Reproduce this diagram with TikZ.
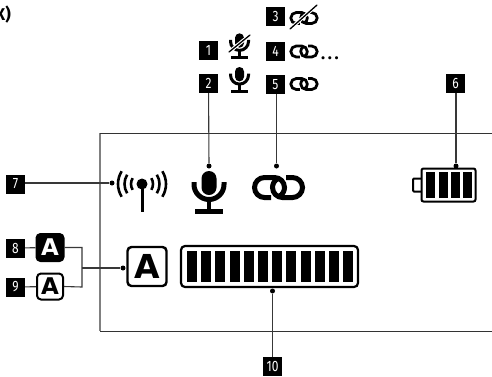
\documentclass[tikz,border=0pt]{standalone}
\usepackage{fontspec}
\setmainfont{Fira Sans}
\newfontfamily\numfont[FakeStretch=0.8]{Fira Sans}
\newfontfamily\letfont{DejaVu Sans}
\usetikzlibrary{calc}
\definecolor{FrameClr}{gray}{0.2}
\definecolor{LeadClr}{gray}{0.22}

\tikzset{
  numbox/.style={fill=black,text=white,minimum size=19pt,inner sep=0pt,font=\numfont\fontsize{15}{15}\selectfont},
  leader/.style={line width=1.1pt,color=LeadClr},
  dotend/.style={fill=black,circle,inner sep=0pt,minimum size=5pt},
  lettbox/.style={draw=black,line width=2pt,rounded corners=4pt,inner sep=0pt},
  slash/.style={line width=1.3pt,line cap=round}
}

\newcommand{\MicIcon}[3]{
  \begin{scope}[shift={(#1,#2)},scale=#3]
    \fill (-7.5,-14.5) arc (180:360:7.5) -- (7.5,-5.5) arc (0:180:7.5) -- cycle;
    \draw[line width=#3*5pt] (-15,-11) -- (-15,-8.5) arc (180:0:15) -- (15,-11);
    \draw[line width=#3*4.5pt] (0,6) -- (0,16);
    \fill (-14,16) rectangle (14,21);
  \end{scope}
}
\newcommand{\ChainIcon}[3]{
  \begin{scope}[shift={(#1,#2)},scale=#3,line width=#3*5pt]
    \draw (-7.5,10) -- (-14,10) arc (90:270:10) -- (-4,-10) arc (-90:60:10);
    \draw (7.5,-10) -- (14,-10) arc (-90:90:10) -- (4,10) arc (90:240:10);
  \end{scope}
}

\begin{document}
\begin{tikzpicture}[x=1pt,y=-1pt]
\useasboundingbox (0,0) rectangle (492,376);

\node[anchor=east,inner sep=0pt,font=\fontsize{17}{17}\selectfont\bfseries] (title) at (11,15) {X)};

% screen frame
\coordinate (frameTL) at (100,133);
\coordinate (frameTR) at (492,133);
\coordinate (frameBL) at (100,331);
\coordinate (frameBR) at (492,331);
\draw[black!50,line width=1.2pt] (frameTL) -- (frameBL);
\draw[FrameClr,line width=0.9pt] (frameTL) -- (frameTR);
\draw[FrameClr,line width=0.9pt] (frameBL) -- (frameBR);

% numbers
\foreach \nam/\x/\y/\lab in {n1/208.5/50.5/1,n2/208.5/83.5/2,n3/275.5/16.5/3,n4/275.5/51.5/4,n5/275.5/84.5/5,
  n6/455.5/83.5/6,n7/15.5/184/7,n8/15.5/248/8,n9/15.5/287/9,n10/272.5/366.5/10}
  \node[numbox] (\nam) at (\x,\y) {\lab};

% big icons
\MicIcon{209}{193}{1}
\ChainIcon{278.5}{187.5}{1}

% small icons
\MicIcon{239.5}{80.2}{.6}
\MicIcon{239.5}{46.5}{.6}
\coordinate (slashA) at (229,52);
\coordinate (slashB) at (250,35);
\draw[white,line width=3.5pt] (slashA) -- (slashB);
\draw[slash] (slashA) -- (slashB);
\ChainIcon{304}{18}{.55}
\coordinate (slashC) at (290,29);
\coordinate (slashD) at (317,5);
\draw[white,line width=3.5pt] (slashC) -- (slashD);
\draw[slash] (slashC) -- (slashD);
\ChainIcon{304}{51.5}{.55}
\ChainIcon{304}{84}{.55}
\node[anchor=base west,inner sep=0pt,font=\fontsize{17}{17}\selectfont\bfseries] (dots) at (321,59.5) {.\kern2.6pt.\kern2.6pt.};

% antenna
\node[dotend,minimum size=11pt] (ant) at (142,184) {};
\draw[line width=3pt] (ant.center) -- (142,212);
\foreach \r in {11,17.5,24} {
  \draw[line width=2.6pt] ($(ant.center)+(148:\r)$) arc (148:212:\r);
  \draw[line width=2.6pt] ($(ant.center)+(32:\r)$) arc (32:-32:\r);
}

% battery
\node[draw,line width=2pt,rounded corners=2pt,minimum width=54pt,minimum height=33pt,inner sep=0pt] (batt) at (448.5,185) {};
\draw[line width=2pt,rounded corners=1pt] (421,178.5) -- ++(-8,0) -- ++(0,13) -- ++(8,0);
\foreach \x in {426,439,451,463}
  \fill (\x,172) rectangle ++(8.5,26);

% letter boxes
\node[lettbox,minimum size=27pt,fill=black,text=white,font=\letfont\bfseries\fontsize{23}{23}\selectfont] (a8) at (50,247.5) {A};
\node[lettbox,minimum size=26pt,font=\letfont\bfseries\fontsize{23}{23}\selectfont] (a9) at (50,286.5) {A};
\node[lettbox,line width=2.4pt,minimum size=39pt,font=\letfont\bfseries\fontsize{33}{33}\selectfont] (abig) at (147,266.5) {A};

% level bar
\node[draw,line width=2.2pt,rounded corners=4pt,minimum width=177pt,minimum height=41pt,inner sep=0pt] (level) at (269.5,266.5) {};
\foreach \x in {187,201,215,230,244,258,272,286,301,315,329,343}
  \fill (\x,251) rectangle ++(10,31);

% leaders
\node[dotend] (d2) at (209,166) {};
\draw[leader] (n2) -- (d2);
\node[dotend] (d5) at (276.5,166) {};
\draw[leader] (n5.south -| d5) -- (d5);
\node[dotend] (d6) at (456,166) {};
\draw[leader] (n6.south -| d6) -- (d6);
\node[dotend] (d7) at (112,183) {};
\draw[leader] (n7.east |- d7) -- (d7);
\node[dotend] (d10) at (272.5,291) {};
\draw[leader] (n10) -- (d10);
\node[dotend] (dA) at (123,268) {};
\draw[leader] (n8) -- (a8);
\draw[leader] (n9) -- (a9);
\coordinate (brT) at (82,247.5);
\coordinate (brB) at (82,287);
\draw[leader] (a8.east) -- (brT) -- (brB) -- (a9.east);
\draw[leader] (dA -| brT) -- (dA);
\end{tikzpicture}
\end{document}
